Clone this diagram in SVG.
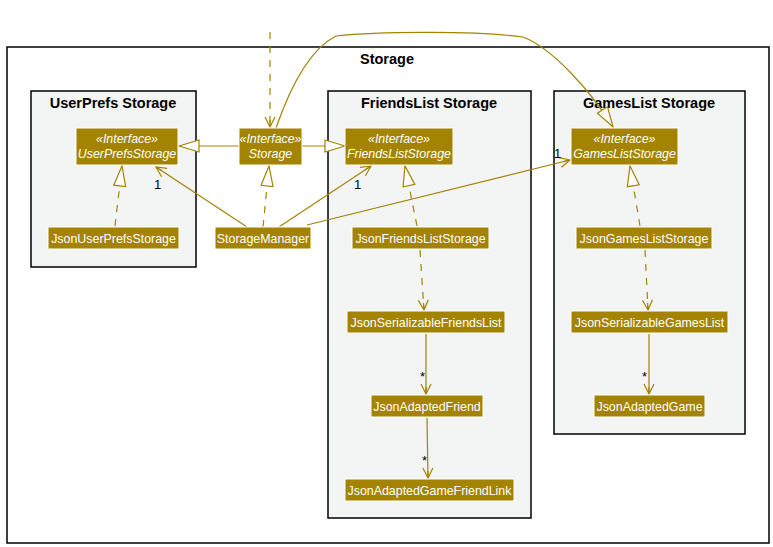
<svg xmlns="http://www.w3.org/2000/svg" width="773" height="547" viewBox="0 0 773 547">
<defs>
<style>
.pkg{fill:#F3F5F4;stroke:#000;stroke-width:1.5}
.frame{fill:#fff;stroke:#000;stroke-width:1.5}
.title{font-family:"Liberation Sans",Arial,sans-serif;font-weight:bold;font-size:14.5px;fill:#000;text-anchor:middle}
.node{fill:#A38300;stroke:#fff;stroke-width:1}
.nt{font-family:"Liberation Sans",Arial,sans-serif;font-size:12.4px;fill:#fff;text-anchor:middle}
.it{font-style:italic}
.ln{fill:none;stroke:#A38300;stroke-width:1.2}
.dash{stroke-dasharray:7,7}
.lbl{font-family:"Liberation Sans",Arial,sans-serif;font-size:13px;fill:#000}
</style>
<marker id="open" viewBox="0 0 12 12" refX="11" refY="6" markerWidth="12" markerHeight="12" markerUnits="userSpaceOnUse" orient="auto">
<path d="M1,1 L11,6 L1,11 M11,6 L4,6" fill="none" stroke="#A38300" stroke-width="1.2"/>
</marker>
<marker id="tri" viewBox="0 0 22 14" refX="21" refY="7" markerWidth="22" markerHeight="14" markerUnits="userSpaceOnUse" orient="auto">
<path d="M1,1 L21,7 L1,13 Z" fill="#fff" stroke="#A38300" stroke-width="1.2"/>
</marker>
</defs>
<rect width="773" height="547" fill="#fff"/>
<g id="storage-frame">
<rect class="frame" x="7" y="47" width="762" height="496"/>
<text class="title" x="387" y="64">Storage</text>
</g>
<g id="pkg-userprefs">
<rect class="pkg" x="31" y="91" width="165" height="176"/>
<text class="title" x="113" y="108">UserPrefs Storage</text>
</g>
<g id="pkg-friends">
<rect class="pkg" x="328" y="91" width="203" height="427"/>
<text class="title" x="429" y="108">FriendsList Storage</text>
</g>
<g id="pkg-games">
<rect class="pkg" x="554" y="91" width="191" height="343"/>
<text class="title" x="649" y="108">GamesList Storage</text>
</g>
<g id="connectors">
<path class="ln dash" d="M270,32 L270,127" marker-end="url(#open)"/>
<path class="ln" d="M239,146 L179,146" marker-end="url(#tri)"/>
<path class="ln" d="M302,146 L345,146" marker-end="url(#tri)"/>
<path class="ln" d="M276,128 C292,82 312,48 336,36 C380,31 480,31 523,37 C552,48 590,90 613,127" marker-end="url(#tri)"/>
<path class="ln" d="M247,227 L156,167" marker-end="url(#open)"/>
<path class="ln dash" d="M263,227 L269,166" marker-end="url(#tri)"/>
<path class="ln" d="M279,227 L371,166" marker-end="url(#open)"/>
<path class="ln" d="M307,225 L570,160" marker-end="url(#open)"/>
<path class="ln dash" d="M115,226 L122,166" marker-end="url(#tri)"/>
<path class="ln dash" d="M417,226 L405,166" marker-end="url(#tri)"/>
<path class="ln dash" d="M640,226 L630,166" marker-end="url(#tri)"/>
<path class="ln dash" d="M420,250 L424,310" marker-end="url(#open)"/>
<path class="ln dash" d="M645,250 L648,310" marker-end="url(#open)"/>
<path class="ln" d="M426,334 L426,394" marker-end="url(#open)"/>
<path class="ln" d="M427,418 L428,478" marker-end="url(#open)"/>
<path class="ln" d="M649,334 L649,394" marker-end="url(#open)"/>
<text class="lbl" x="154" y="189">1</text>
<text class="lbl" x="354" y="189">1</text>
<text class="lbl" x="554" y="158">1</text>
<text class="lbl" x="420" y="381">*</text>
<text class="lbl" x="422" y="465">*</text>
<text class="lbl" x="642" y="381">*</text>
</g>
<g id="n-userprefsstorage">
<rect class="node" x="76" y="128" width="102" height="37"/>
<text class="nt it" x="127" y="143">«Interface»</text>
<text class="nt it" x="127" y="158">UserPrefsStorage</text>
</g>
<g id="n-storage">
<rect class="node" x="239" y="128" width="63" height="37"/>
<text class="nt it" x="270.5" y="143">«Interface»</text>
<text class="nt it" x="270.5" y="158">Storage</text>
</g>
<g id="n-friendsliststorage">
<rect class="node" x="345" y="128" width="108" height="37"/>
<text class="nt it" x="399" y="143">«Interface»</text>
<text class="nt it" x="399" y="158">FriendsListStorage</text>
</g>
<g id="n-gamesliststorage">
<rect class="node" x="571" y="128" width="107" height="37"/>
<text class="nt it" x="624.5" y="143">«Interface»</text>
<text class="nt it" x="624.5" y="158">GamesListStorage</text>
</g>
<g id="n-jsonuserprefsstorage">
<rect class="node" x="48" y="227" width="131" height="22"/>
<text class="nt" x="113.5" y="242.5">JsonUserPrefsStorage</text>
</g>
<g id="n-storagemanager">
<rect class="node" x="215" y="227" width="96" height="22"/>
<text class="nt" x="263" y="242.5">StorageManager</text>
</g>
<g id="n-jsonfriendsliststorage">
<rect class="node" x="352" y="227" width="137" height="22"/>
<text class="nt" x="420.5" y="242.5">JsonFriendsListStorage</text>
</g>
<g id="n-jsongamesliststorage">
<rect class="node" x="576" y="227" width="136" height="22"/>
<text class="nt" x="644" y="242.5">JsonGamesListStorage</text>
</g>
<g id="n-jsonserializablefriendslist">
<rect class="node" x="347" y="311" width="158" height="22"/>
<text class="nt" x="426" y="326.5">JsonSerializableFriendsList</text>
</g>
<g id="n-jsonserializablegameslist">
<rect class="node" x="571" y="311" width="157" height="22"/>
<text class="nt" x="649.5" y="326.5">JsonSerializableGamesList</text>
</g>
<g id="n-jsonadaptedfriend">
<rect class="node" x="371" y="395" width="112" height="22"/>
<text class="nt" x="427" y="410.5">JsonAdaptedFriend</text>
</g>
<g id="n-jsonadaptedgame">
<rect class="node" x="594" y="395" width="111" height="22"/>
<text class="nt" x="649.5" y="410.5">JsonAdaptedGame</text>
</g>
<g id="n-jsonadaptedgamefriendlink">
<rect class="node" x="345" y="479" width="169" height="22"/>
<text class="nt" x="429.5" y="494.5">JsonAdaptedGameFriendLink</text>
</g>
</svg>
